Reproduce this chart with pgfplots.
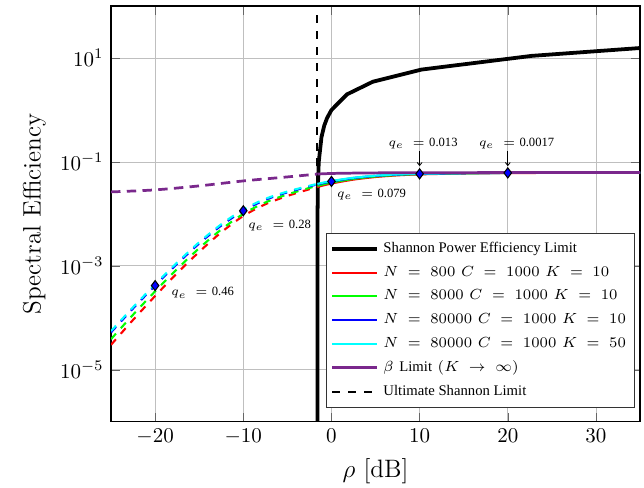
\documentclass[border=0pt]{standalone}
\usepackage{fontspec}
\usepackage{pgfplots}
\pgfplotsset{compat=1.18}
\usetikzlibrary{calc,arrows.meta}
\newfontfamily\tms{Liberation Serif}
\newcommand{\ann}{\fontsize{6}{7}\selectfont}
\definecolor{betacol}{RGB}{122,40,140}
\definecolor{cy}{RGB}{0,255,255}
\definecolor{gr}{RGB}{0,255,0}
\begin{document}
\begin{tikzpicture}
\begin{axis}[
  scale only axis, width=252pt, height=198pt,
  ymode=log, xmin=-25, xmax=35, ymin=1e-6, ymax=1e2,
  xtick={-20,-10,0,10,20,30},
  ytick={1e-5,1e-3,1e-1,1e1},
  grid=major, major grid style={black!25, line width=0.4pt},
  tick style={black!60},
  axis line style={line width=0.6pt},
  xlabel={\large $\rho$ [dB]},
  ylabel={\large Spectral Efficiency},
  legend cell align=left,
  legend image code/.code={\draw[#1] (0pt,0pt) -- (21.5pt,0pt);},
  legend style={at={(0.99,0.034)}, anchor=south east, draw=black!80,
    font=\fontsize{7}{8}\selectfont, row sep=1pt, inner xsep=2pt},
  brk/.style={dash pattern=on 3.5pt off 3.5pt},
]
% Shannon bound
\addplot[black, line width=1.8pt] coordinates {
 (-1.5917,1e-7) (-1.5902,1e-3) (-1.5767,0.01) (-1.5465,0.03) (-1.4405,0.1)
 (-1.1323,0.3) (-0.8174,0.5) (-0.4957,0.7) (0,1) (1.761,2) (4.694,3.5)
 (10.212,6) (22.697,11) (35.03,15.6)};
\addlegendentry{\tms Shannon Power Efficiency Limit}
\addplot[red, line width=1pt, smooth] coordinates {
 (-1.59,3.296e-2) (0,3.846e-2) (2.5,4.571e-2) (5,5.129e-2) (7.5,5.521e-2) (10,5.768e-2)
 (15,5.998e-2) (20,6.109e-2) (25,6.152e-2) (30,6.166e-2) (35,6.18e-2)};
\addlegendentry{$N\;=\;800\ C\;=\;1000\ K\;=\;10$}
\addplot[gr, line width=1pt, smooth] coordinates {
 (-1.59,3.467e-2) (0,4.009e-2) (2.5,4.721e-2) (5,5.26e-2) (7.5,5.61e-2) (10,5.834e-2)
 (15,6.026e-2) (20,6.138e-2) (25,6.166e-2) (30,6.18e-2) (35,6.194e-2)};
\addlegendentry{$N\;=\;8000\ C\;=\;1000\ K\;=\;10$}
\addplot[blue, line width=1pt, smooth] coordinates {
 (-1.59,3.698e-2) (0,4.217e-2) (2.5,4.898e-2) (5,5.395e-2) (7.5,5.715e-2) (10,5.902e-2)
 (15,6.067e-2) (20,6.152e-2) (25,6.18e-2) (30,6.194e-2) (35,6.209e-2)};
\addlegendentry{$N\;=\;80000\ C\;=\;1000\ K\;=\;10$}
\addplot[cy, line width=1pt, smooth] coordinates {
 (-1.59,3.784e-2) (0,4.295e-2) (2.5,4.966e-2) (5,5.445e-2) (7.5,5.754e-2) (10,5.929e-2)
 (15,6.081e-2) (20,6.166e-2) (25,6.194e-2) (30,6.209e-2) (35,6.223e-2)};
\addlegendentry{$N\;=\;80000\ C\;=\;1000\ K\;=\;50$}
\addplot[betacol, line width=1.3pt, smooth] coordinates {
 (-1.59,0.0585) (0,0.06) (2.5,0.061) (5,0.0616) (10,0.0621) (20,0.0624) (35,0.0625)};
\addlegendentry{$\beta$ {\tms Limit} $(K\;\rightarrow\;\infty)$}
\addplot[black, line width=1pt, dash pattern=on 3.8pt off 3.8pt] coordinates {(-1.59,1e-6) (-1.59,1e2)};
\addlegendentry{\tms Ultimate Shannon Limit}
% parts below the Shannon limit
\addplot[red, line width=1pt, brk, smooth, forget plot] coordinates {
 (-25,3.02e-5) (-22.5,9.12e-5) (-20,2.63e-4) (-17.5,7.24e-4) (-15,1.862e-3) (-12.5,4.416e-3)
 (-10,9.12e-3) (-7.5,1.531e-2) (-5,2.213e-2) (-2.5,2.985e-2) (-1.59,3.296e-2)};
\addplot[gr, line width=1pt, brk, smooth, forget plot] coordinates {
 (-25,3.89e-5) (-22.5,1.148e-4) (-20,3.236e-4) (-17.5,8.71e-4) (-15,2.188e-3) (-12.5,5.012e-3)
 (-10,1.0e-2) (-7.5,1.66e-2) (-5,2.371e-2) (-2.5,3.162e-2) (-1.59,3.467e-2)};
\addplot[blue, line width=1pt, brk, smooth, forget plot] coordinates {
 (-25,5.25e-5) (-22.5,1.514e-4) (-20,4.17e-4) (-17.5,1.096e-3) (-15,2.692e-3) (-12.5,5.957e-3)
 (-10,1.148e-2) (-7.5,1.862e-2) (-5,2.6e-2) (-2.5,3.388e-2) (-1.59,3.698e-2)};
\addplot[cy, line width=1pt, brk, smooth, forget plot] coordinates {
 (-25,5.56e-5) (-22.5,1.603e-4) (-20,4.416e-4) (-17.5,1.161e-3) (-15,2.851e-3) (-12.5,6.31e-3)
 (-10,1.216e-2) (-7.5,1.95e-2) (-5,2.692e-2) (-2.5,3.483e-2) (-1.59,3.784e-2)};
\addplot[betacol, line width=1.3pt, dash pattern=on 4.5pt off 3pt, smooth, forget plot] coordinates {
 (-25,0.0265) (-20,0.029) (-15,0.0346) (-10,0.0431) (-5,0.0515) (-1.59,0.0585)};
% q_e markers
\addplot[only marks, mark=diamond*, mark size=2.4pt, mark options={fill=blue, draw=black, line width=0.5pt}, forget plot]
 coordinates {(-20,4.17e-4) (-10,1.148e-2) (0,4.217e-2) (10,5.902e-2) (20,6.152e-2)};
\node[anchor=west, inner sep=0pt, font=\ann] at (axis cs:-18.2,3.0e-4) {$q_e\;=\;${\tms 0.46}};
\node[anchor=west, inner sep=0pt, font=\ann] at (axis cs:-9.47,5.9e-3) {$q_e\;=\;${\tms 0.28}};
\node[anchor=west, inner sep=0pt, font=\ann] at (axis cs:0.6,0.0232) {$q_e\;=\;${\tms 0.079}};
\node[inner sep=0pt, font=\ann] at (axis cs:10.4,0.225) {$q_e\;=\;${\tms 0.013}};
\node[inner sep=0pt, font=\ann] at (axis cs:21.0,0.225) {$q_e\;=\;${\tms 0.0017}};
\draw[line width=0.4pt, -{To[length=1.8pt,width=2.6pt]}] (axis cs:10,0.163) -- (axis cs:10,0.0838);
\draw[line width=0.4pt, -{To[length=1.8pt,width=2.6pt]}] (axis cs:20,0.163) -- (axis cs:20,0.0838);
\end{axis}
\pgfresetboundingbox
\path ($(current axis.south west)+(-52.9pt,-31.4pt)$) rectangle ($(current axis.north east)+(1.9pt,2.9pt)$);
\end{tikzpicture}
\end{document}
